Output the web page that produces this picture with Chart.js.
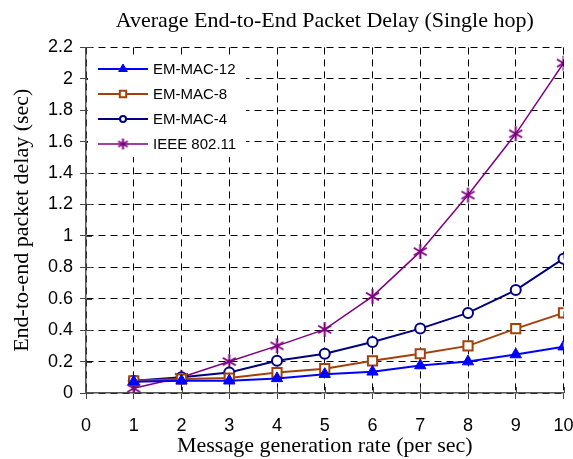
<!DOCTYPE html>
<html>
<head>
<meta charset="utf-8">
<script src="https://cdn.jsdelivr.net/npm/chart.js@4.4.1/dist/chart.umd.min.js"></script>
<style>
  html, body { margin: 0; padding: 0; background: #fff; }
  #wrap { width: 573px; height: 459px; }
</style>
</head>
<body>
<div id="wrap"><canvas id="delay" width="573" height="459"></canvas></div>
<script>
// message generation rate (per sec)
const rates = [1, 2, 3, 4, 5, 6, 7, 8, 9, 10];
// end-to-end packet delay (sec)
const emMac12 = [0.072, 0.078, 0.078, 0.093, 0.12, 0.135, 0.175, 0.2, 0.245, 0.295];
const emMac8 = [0.078, 0.089, 0.095, 0.13, 0.155, 0.205, 0.25, 0.3, 0.41, 0.51];
const emMac4 = [0.078, 0.1, 0.13, 0.205, 0.25, 0.325, 0.41, 0.51, 0.655, 0.855];
const ieee80211 = [0.03, 0.1, 0.2, 0.3, 0.405, 0.615, 0.9, 1.26, 1.65, 2.1];
const seriesNames = ["EM-MAC-12", "EM-MAC-8", "EM-MAC-4", "IEEE 802.11"];
const yTicks = [0, 0.2, 0.4, 0.6, 0.8, 1, 1.2, 1.4, 1.6, 1.8, 2, 2.2];

const SERIF = "'Liberation Serif', 'Times New Roman', serif";
const SANS = "'Liberation Sans', Arial, sans-serif";

// six-armed asterisk like the original plot marker
function asterisk(size, color) {
  const c = document.createElement("canvas");
  c.width = c.height = size;
  const g = c.getContext("2d");
  const m = size / 2, r = size / 2 - 1;
  g.strokeStyle = color;
  g.lineWidth = 2;
  g.beginPath();
  for (const a of [90, 30, 150]) {
    const rad = a * Math.PI / 180;
    g.moveTo(m - r * Math.cos(rad), m - r * Math.sin(rad));
    g.lineTo(m + r * Math.cos(rad), m + r * Math.sin(rad));
  }
  g.stroke();
  return c;
}

const pts = (vals) => rates.map((x, i) => ({ x, y: vals[i] }));

const datasets = [
  { label: seriesNames[0], data: pts(emMac12), borderColor: "#0000ff", backgroundColor: "#0000ff",
    borderWidth: 2, pointStyle: "triangle", pointRadius: 6.5, pointBorderWidth: 1,
    legendStyle: "triangle", legendRadius: 5 },
  { label: seriesNames[1], data: pts(emMac8), borderColor: "#a3410c", backgroundColor: "#ffffff",
    borderWidth: 2, pointStyle: "rect", pointRadius: 6.5, pointBorderWidth: 2,
    legendStyle: "rect", legendRadius: 4.5 },
  { label: seriesNames[2], data: pts(emMac4), borderColor: "#000080", backgroundColor: "#ffffff",
    borderWidth: 2, pointStyle: "circle", pointRadius: 5, pointBorderWidth: 2,
    legendStyle: "circle", legendRadius: 3 },
  { label: seriesNames[3], data: pts(ieee80211), borderColor: "#800080", backgroundColor: "#800080",
    borderWidth: 1.5, pointStyle: asterisk(17, "#800080"), pointRadius: 8,
    legendStyle: asterisk(13, "#800080"), legendRadius: 6 },
];

// short solid tick marks on the inner side of both axes
const innerTicks = {
  id: "innerTicks",
  beforeDatasetsDraw(chart) {
    const { ctx, chartArea: a, scales } = chart;
    ctx.save();
    ctx.strokeStyle = "#444";
    ctx.lineWidth = 1;
    ctx.beginPath();
    scales.y.ticks.forEach((t) => {
      const y = Math.round(scales.y.getPixelForValue(t.value)) + 0.5;
      ctx.moveTo(a.left, y);
      ctx.lineTo(a.left + 6, y);
    });
    scales.x.ticks.forEach((t) => {
      const x = Math.round(scales.x.getPixelForValue(t.value)) + 0.5;
      ctx.moveTo(x, a.bottom);
      ctx.lineTo(x, a.bottom - 6);
    });
    ctx.stroke();
    ctx.restore();
  },
};

// legend drawn inside the plot, line with marker in the middle
const insideLegend = {
  id: "insideLegend",
  afterDatasetsDraw(chart) {
    const ctx = chart.ctx;
    const area = chart.chartArea;
    ctx.save();
    ctx.fillStyle = "#fff";
    ctx.fillRect(area.left + 2, 56, 158, 101);
    chart.data.datasets.forEach((ds, i) => {
      const y = 69 + i * 25;
      const x1 = 98, x2 = 148, xm = 123;
      ctx.strokeStyle = ds.borderColor;
      ctx.lineWidth = ds.borderWidth;
      ctx.setLineDash([]);
      ctx.beginPath();
      ctx.moveTo(x1, y);
      ctx.lineTo(x2, y);
      ctx.stroke();
      ctx.fillStyle = ds.backgroundColor;
      ctx.lineWidth = ds.pointBorderWidth || 1;
      Chart.helpers.drawPoint(ctx, {
        pointStyle: ds.legendStyle, radius: ds.legendRadius, rotation: 0,
        borderWidth: ds.pointBorderWidth || 1,
      }, xm, y);
      ctx.fillStyle = "#000";
      ctx.font = "15px " + SANS;
      ctx.textBaseline = "middle";
      ctx.textAlign = "left";
      ctx.fillText(ds.label, 153, y + 1);
    });
    ctx.restore();
  },
};

new Chart(document.getElementById("delay"), {
  type: "line",
  data: { datasets },
  options: {
    responsive: false,
    animation: false,
    devicePixelRatio: 1,
    layout: { padding: { top: 0, right: 0, bottom: 0, left: 0 } },
    plugins: {
      legend: { display: false },
      tooltip: { enabled: false },
      title: {
        display: true,
        fullSize: false,
        text: "Average End-to-End Packet Delay (Single hop)",
        color: "#000",
        font: { family: SERIF, size: 22, weight: "normal" },
        padding: { top: 8, bottom: 13 },
      },
    },
    scales: {
      x: {
        type: "linear",
        min: 0, max: 10,
        afterFit: (s) => { s.height = 66; s.paddingLeft = 0; s.paddingRight = 4; },
        ticks: { stepSize: 1, color: "#000", font: { family: SANS, size: 18 }, padding: 16 },
        grid: { color: "#000", lineWidth: 1, tickLength: 6, tickColor: "#444", tickBorderDash: [] },
        border: { display: true, color: "#555", width: 1.5, dash: [7, 5] },
        title: {
          display: true, text: "Message generation rate (per sec)", color: "#000",
          font: { family: SERIF, size: 22, weight: "normal" }, padding: { top: 1, bottom: 0 },
        },
      },
      y: {
        min: 0, max: 2.2,
        afterBuildTicks: (s) => { s.ticks = yTicks.map((v) => ({ value: v })); },
        afterFit: (s) => { s.width = 86; },
        ticks: { color: "#000", font: { family: SANS, size: 18 }, padding: 7,
          callback: (v) => String(Math.round(v * 10) / 10) },
        grid: { color: "#000", lineWidth: 1, tickLength: 6, tickColor: "#444", tickBorderDash: [] },
        border: { display: true, color: "#555", width: 1.5, dash: [7, 5] },
        title: {
          display: true, text: "End-to-end packet delay (sec)", color: "#000",
          font: { family: SERIF, size: 22, weight: "normal" }, padding: { top: 9, bottom: 0 },
        },
      },
    },
  },
  plugins: [innerTicks, insideLegend],
});
</script>
</body>
</html>
